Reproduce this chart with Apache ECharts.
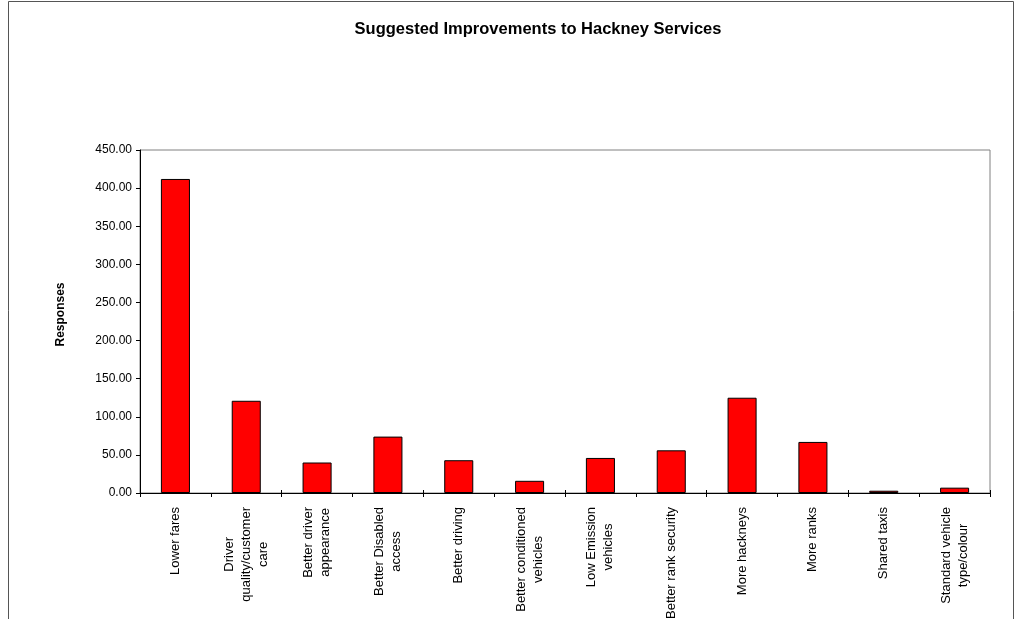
<!DOCTYPE html>
<html>
<head>
<meta charset="utf-8">
<title>Suggested Improvements to Hackney Services</title>
<script src="https://cdn.jsdelivr.net/npm/echarts@6/dist/echarts.min.js"></script>
<style>
  html, body { margin: 0; padding: 0; background: #ffffff; }
  #chart { width: 1016px; height: 619px; }
</style>
</head>
<body>
<div id="chart"></div>
<script>
// Survey responses per suggested improvement
const categories = [
  'Lower fares',
  'Driver\nquality/customer\ncare',
  'Better driver\nappearance',
  'Better Disabled\naccess',
  'Better driving',
  'Better conditioned\nvehicles',
  'Low Emission\nvehicles',
  'Better rank security',
  'More hackneys',
  'More ranks',
  'Shared taxis',
  'Standard vehicle\ntype/colour'
];
const responses = [412, 121, 40, 74, 43, 16, 46, 56, 125, 67, 3, 7];

const titleText = 'Suggested Improvements to Hackney Services';
const yAxisName = 'Responses';

const FONT = "'Liberation Sans', Arial, sans-serif";

const chart = echarts.init(document.getElementById('chart'), null, { renderer: 'canvas' });

chart.setOption({
  animation: false,
  backgroundColor: '#ffffff',
  textStyle: { fontFamily: FONT },
  title: {
    text: titleText,
    left: 533,
    top: 16,
    textAlign: 'center',
    textStyle: { fontFamily: FONT, fontSize: 16.5, fontWeight: 'bold', color: '#000' }
  },
  graphic: [
    // outer chart frame
    { type: 'polyline', silent: true,
      shape: { points: [[8.5, 640], [8.5, 1.5], [1013.5, 1.5], [1013.5, 640]] },
      style: { stroke: '#555', lineWidth: 1, fill: null } }
  ],
  grid: {
    left: 140, top: 150, right: 26, bottom: 126,
    outerBoundsMode: 'none',
    containLabel: false,
    show: true, borderColor: '#808080', borderWidth: 1, backgroundColor: 'transparent'
  },
  xAxis: [
    {
      type: 'category',
      data: categories,
      boundaryGap: true,
      position: 'bottom',
      axisLine: { show: true, lineStyle: { color: '#000', width: 1 } },
      axisTick: { show: true, length: 4, lineStyle: { color: '#000' } },
      axisLabel: {
        interval: 0,
        rotate: 90,
        margin: 14,
        color: '#000',
        fontFamily: FONT,
        fontSize: 13,
        lineHeight: 17,
        formatter: v => v.split('\n').map(l => '{c|' + l + '}').join('\n'),
        rich: { c: { align: 'center', fontFamily: FONT, fontSize: 13, lineHeight: 17, color: '#000' } }
      },
      splitLine: { show: false }
    },
    {
      // inner half of the crossing category ticks
      type: 'category',
      data: categories,
      boundaryGap: true,
      position: 'bottom',
      axisLine: { show: false },
      axisTick: { show: true, inside: true, length: 3, lineStyle: { color: '#000' } },
      axisLabel: { show: false },
      splitLine: { show: false }
    }
  ],
  yAxis: {
    type: 'value',
    min: 0,
    max: 450,
    interval: 50,
    name: yAxisName,
    nameLocation: 'middle',
    nameRotate: 90,
    nameGap: 73,
    nameTextStyle: { fontFamily: FONT, fontSize: 12, fontWeight: 'bold', color: '#000', padding: [0, 0, 0, 14] },
    axisLine: { show: true, lineStyle: { color: '#000', width: 1 } },
    axisTick: { show: true, length: 4, lineStyle: { color: '#000' } },
    axisLabel: {
      margin: 8,
      color: '#000',
      fontFamily: FONT,
      fontSize: 12,
      formatter: v => v.toFixed(2)
    },
    splitLine: { show: false }
  },
  series: [{
    type: 'bar',
    data: responses,
    xAxisIndex: 0,
    barWidth: '41%',
    itemStyle: { color: '#ff0000', borderColor: '#000', borderWidth: 1 }
  }]
});
</script>
</body>
</html>
